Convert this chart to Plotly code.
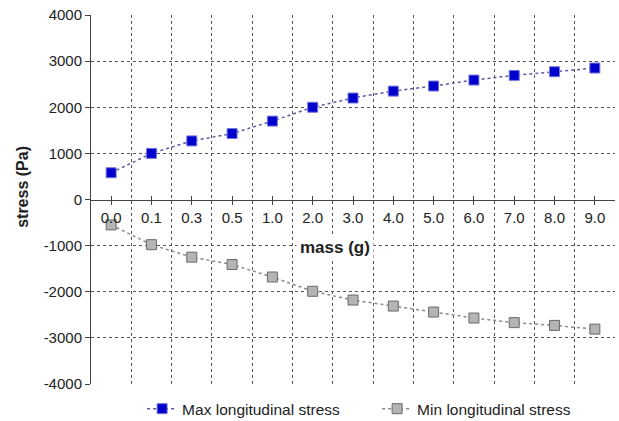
import plotly.graph_objects as go

mass_labels = ["0.0", "0.1", "0.3", "0.5", "1.0", "2.0", "3.0", "4.0", "5.0", "6.0", "7.0", "8.0", "9.0"]
max_stress = [580, 1000, 1270, 1430, 1700, 2000, 2200, 2350, 2460, 2590, 2690, 2770, 2850]
min_stress = [-550, -980, -1250, -1410, -1680, -1990, -2180, -2310, -2440, -2570, -2670, -2730, -2810]
y_ticks = [-4000, -3000, -2000, -1000, 0, 1000, 2000, 3000, 4000]
y_ticktext = [str(v) for v in y_ticks]

FONT = "Liberation Sans, Arial, sans-serif"
idx = list(range(len(mass_labels)))
xr = [-0.5, len(mass_labels) - 0.5]

fig = go.Figure()
fig.add_trace(go.Scatter(
    x=idx, y=max_stress, name="Max longitudinal stress", mode="lines+markers",
    line=dict(color="#5a5aa8", width=1.5, dash="dot"),
    marker=dict(symbol="square", size=10, color="#0000cc", line=dict(color="#7777dd", width=1)),
))
fig.add_trace(go.Scatter(
    x=idx, y=min_stress, name="Min longitudinal stress", mode="lines+markers",
    line=dict(color="#8a8a8a", width=1.5, dash="dot"),
    marker=dict(symbol="square", size=10, color="#b4b4b4", line=dict(color="#6a6a6a", width=1)),
))

grid_x = [i + 0.5 for i in idx[:-1]]
grid_y = [v for v in y_ticks if v not in (0, y_ticks[0], y_ticks[-1])]

fig.update_layout(
    width=619, height=421,
    margin=dict(l=91, r=4, t=15, b=37, autoexpand=False),
    paper_bgcolor="white", plot_bgcolor="white",
    font=dict(family=FONT, size=15, color="#222"),
    showlegend=True,
    legend=dict(orientation="h", x=0.546, xanchor="center", y=-0.068, yanchor="middle",
                font=dict(size=15.5, color="#222"), itemwidth=30,
                entrywidth=190, entrywidthmode="pixels"),
    xaxis=dict(range=xr, tickvals=grid_x, showticklabels=False, ticks="",
               showgrid=True, gridcolor="#555", griddash="dot", gridwidth=1,
               zeroline=False, showline=False),
    xaxis2=dict(range=xr, overlaying="x", anchor="free", position=0.5,
                tickvals=idx, ticktext=mass_labels, ticks="outside", ticklen=4,
                tickcolor="#444", showline=True, linecolor="#444", linewidth=1,
                showgrid=False, zeroline=False, tickfont=dict(size=15, color="#222")),
    xaxis3=dict(range=xr, overlaying="x", anchor="free", position=0.5,
                tickvals=idx + [xr[1]], ticks="inside", ticklen=4, tickcolor="#444",
                showticklabels=False, showline=False, showgrid=False, zeroline=False),
    yaxis=dict(range=[y_ticks[0], y_ticks[-1]], tickvals=y_ticks, ticktext=y_ticktext,
               ticks="outside", ticklen=5,
               tickcolor="#444", showline=True, linecolor="#444", linewidth=1,
               showgrid=False, zeroline=False, tickfont=dict(size=15, color="#222")),
    yaxis2=dict(range=[y_ticks[0], y_ticks[-1]], overlaying="y", tickvals=grid_y,
                showticklabels=False, ticks="", showgrid=True, gridcolor="#555",
                griddash="dot", gridwidth=1, zeroline=False, showline=False),
)

# invisible helper traces to activate overlay axes
fig.add_trace(go.Scatter(x=[0], y=[0], xaxis="x2", yaxis="y2", mode="markers",
                         marker=dict(opacity=0), showlegend=False, hoverinfo="skip"))
fig.add_trace(go.Scatter(x=[0], y=[0], xaxis="x3", yaxis="y", mode="markers",
                         marker=dict(opacity=0), showlegend=False, hoverinfo="skip"))

fig.add_annotation(text="<b>mass (g)</b>", xref="paper", yref="paper", x=0.466, y=0.371,
                   showarrow=False, bgcolor="white", font=dict(size=17, color="#222"),
                   xanchor="center", yanchor="middle", borderpad=3)
fig.add_annotation(text="<b>stress (Pa)</b>", xref="paper", yref="paper", x=-0.130, y=0.534,
                   showarrow=False, textangle=-90, font=dict(size=16, color="#222"),
                   xanchor="center", yanchor="middle")

fig.write_html("out.html")
